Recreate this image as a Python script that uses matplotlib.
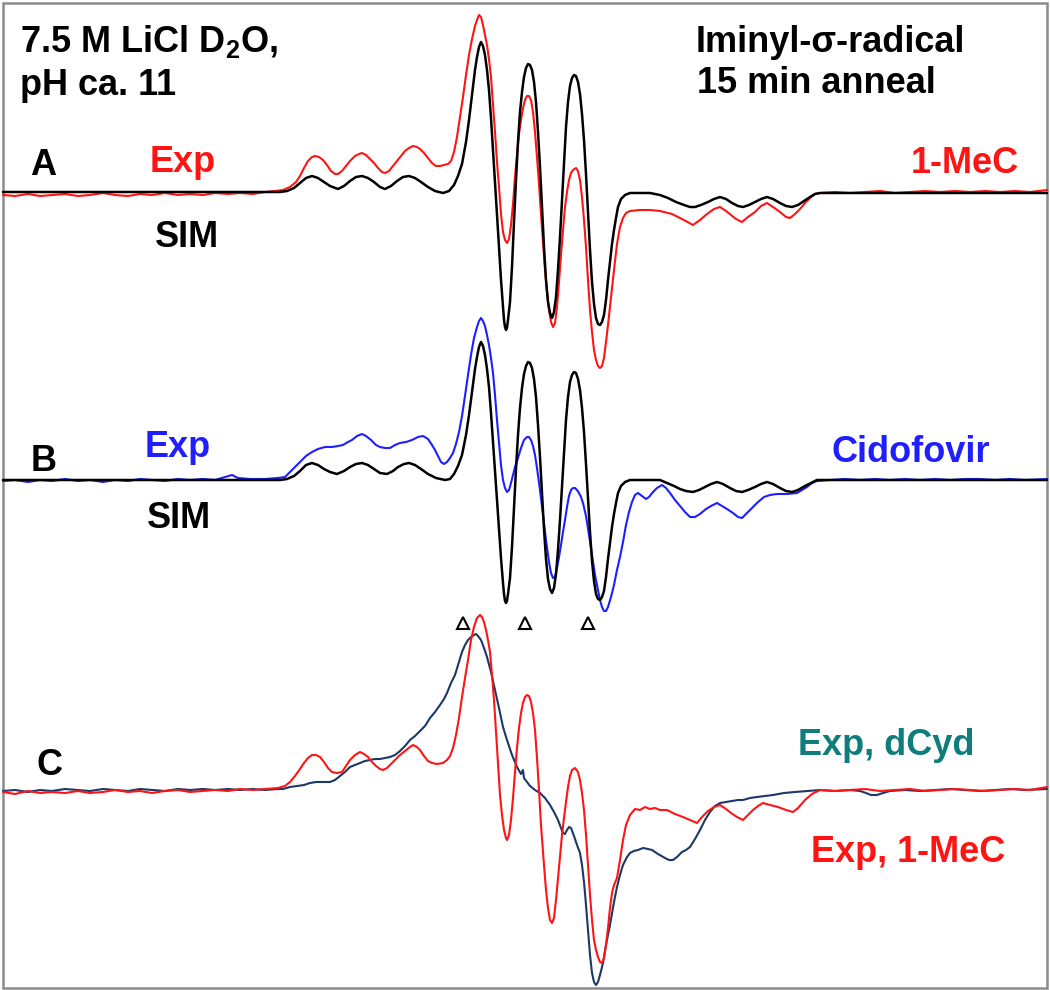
import matplotlib
matplotlib.use("Agg")
import matplotlib.pyplot as plt
import numpy as np

# (field, first-derivative signal) pairs, arbitrary units

# --- A: 1-MeC, simulation and experiment ---
a_sim = [(3, 0), (280, 0), (287, 1), (294, 4), (300, 9), (306, 14), (312, 16), (318, 14),
         (324, 10), (330, 6), (338, 3), (344, 6), (350, 11), (356, 15), (362, 16), (368, 14),
         (374, 10), (380, 5), (385, 3), (391, 6), (397, 11), (403, 15), (409, 16), (415, 14),
         (421, 10), (428, 5), (435, 1), (443, -1), (449, 1), (454, 7), (458, 16), (462, 28),
         (466, 50), (469, 72), (472, 97), (475, 122), (477, 135), (479, 145), (481, 150),
         (483, 146), (485, 137), (487, 122), (489, 102), (491, 74), (493, 42), (495, 10),
         (497, -23), (499, -55), (501, -88), (503, -115), (504, -128), (505, -135), (506, -138),
         (507, -136), (508, -128), (510, -110), (512, -75), (514, -30), (516, 12), (518, 50),
         (520, 80), (522, 100), (524, 115), (526, 124), (528, 128), (530, 127), (532, 122),
         (534, 110), (536, 90), (538, 60), (540, 25), (542, -15), (544, -55), (546, -88),
         (548, -110), (550, -121), (552, -126), (554, -120), (556, -105), (558, -78), (560, -45),
         (562, -8), (564, 30), (566, 65), (568, 90), (570, 106), (572, 114), (574, 117),
         (576, 116), (578, 110), (580, 98), (582, 78), (584, 52), (586, 18), (588, -20),
         (590, -58), (592, -90), (594, -112), (596, -126), (598, -132), (600, -133), (602, -130),
         (604, -123), (606, -108), (608, -88), (610, -70), (612, -52), (614, -38), (616, -26),
         (618, -15), (621, -7), (625, -3), (630, -1), (650, -1), (660, -3), (668, -6), (676, -10),
         (684, -13), (690, -15), (695, -15), (701, -13), (708, -10), (714, -7), (720, -5),
         (726, -7), (732, -11), (738, -14), (743, -15), (749, -13), (755, -10), (761, -7),
         (767, -5), (773, -7), (780, -11), (786, -14), (792, -15), (798, -13), (804, -9),
         (810, -5), (815, -2), (820, -1), (1047, -1)]

a_exp = [(3, -3), (15, -4), (28, -2), (40, -4), (52, -3), (65, -2), (78, -4), (90, -3),
         (103, -1), (115, -3), (128, -4), (140, -2), (152, -3), (165, -1), (178, -3), (190, -2),
         (203, -3), (215, -1), (228, -2), (240, -1), (253, -2), (265, 0), (275, 1), (283, 2),
         (290, 5), (296, 10), (300, 16), (304, 24), (308, 31), (312, 35), (315, 36), (319, 35),
         (323, 32), (327, 27), (331, 21), (335, 18), (338, 18), (342, 21), (346, 26), (350, 31),
         (355, 36), (359, 38), (362, 39), (366, 37), (370, 33), (374, 29), (378, 24), (382, 20),
         (385, 19), (389, 21), (393, 26), (397, 31), (401, 36), (405, 41), (409, 44), (413, 46),
         (417, 45), (420, 43), (424, 39), (428, 34), (432, 29), (436, 26), (440, 26), (444, 27),
         (448, 28), (451, 31), (454, 40), (457, 55), (460, 75), (463, 95), (466, 117), (469, 137),
         (472, 153), (475, 166), (477, 172), (479, 177), (481, 175), (483, 167), (485, 157),
         (487, 147), (489, 133), (491, 115), (493, 88), (495, 60), (497, 30), (499, 5),
         (501, -22), (503, -40), (505, -48), (507, -51), (509, -47), (511, -33), (513, -12),
         (515, 15), (517, 38), (519, 58), (521, 72), (523, 84), (525, 92), (527, 96), (529, 96),
         (531, 92), (533, 80), (535, 60), (537, 35), (539, 8), (541, -22), (543, -50), (545, -78),
         (547, -100), (549, -118), (551, -130), (553, -135), (555, -131), (557, -115), (559, -90),
         (561, -63), (563, -38), (565, -15), (567, 0), (569, 12), (571, 19), (573, 22), (576, 24),
         (578, 21), (580, 12), (582, -5), (584, -28), (586, -55), (588, -88), (590, -118),
         (592, -140), (594, -158), (596, -168), (598, -174), (600, -176), (602, -174), (604, -166),
         (606, -150), (608, -133), (611, -105), (614, -78), (617, -52), (620, -35), (623, -26),
         (626, -21), (630, -19), (640, -18), (650, -18), (660, -19), (672, -22), (682, -27),
         (693, -33), (700, -28), (707, -22), (714, -17), (720, -15), (726, -19), (731, -23),
         (736, -27), (742, -30), (748, -25), (755, -20), (761, -14), (767, -11), (773, -15),
         (780, -20), (786, -25), (790, -26), (795, -22), (800, -17), (805, -11), (810, -6),
         (815, -2), (820, -1), (835, 0), (850, -1), (865, 0), (880, 1), (895, -1), (910, 0),
         (925, 1), (940, 0), (955, 1), (970, 0), (985, 1), (1000, 0), (1015, 1), (1030, 0),
         (1047, 2)]

# --- B: Cidofovir, simulation and experiment ---
b_sim = [(3, 0), (280, 0), (287, 1), (294, 4), (300, 9), (306, 15), (312, 17), (318, 15),
         (324, 11), (330, 8), (337, 6), (344, 9), (350, 13), (356, 16), (362, 17), (368, 15),
         (374, 11), (380, 7), (387, 6), (393, 9), (398, 13), (404, 16), (409, 17), (415, 15),
         (421, 11), (428, 6), (436, 2), (445, 0), (450, 1), (454, 6), (458, 14), (462, 25),
         (466, 45), (469, 65), (472, 88), (475, 111), (477, 123), (479, 133), (481, 138),
         (483, 134), (485, 125), (487, 111), (489, 93), (491, 67), (493, 38), (495, 9),
         (497, -20), (499, -49), (501, -78), (503, -103), (504, -114), (505, -121), (506, -123),
         (507, -121), (508, -114), (510, -98), (512, -67), (514, -27), (516, 11), (518, 45),
         (520, 72), (522, 92), (524, 106), (526, 114), (528, 118), (530, 117), (532, 112),
         (534, 101), (536, 83), (538, 55), (540, 23), (542, -13), (544, -49), (546, -79),
         (548, -99), (550, -109), (552, -113), (554, -108), (556, -94), (558, -70), (560, -40),
         (562, -7), (564, 27), (566, 60), (568, 83), (570, 98), (572, 105), (574, 108),
         (576, 107), (578, 101), (580, 90), (582, 72), (584, 48), (586, 16), (588, -18),
         (590, -52), (592, -81), (594, -101), (596, -114), (598, -119), (600, -120), (602, -117),
         (604, -111), (606, -97), (608, -79), (610, -63), (612, -47), (614, -34), (616, -23),
         (618, -13), (621, -6), (625, -2), (630, 0), (660, 0), (667, -3), (674, -6), (680, -9),
         (686, -11), (693, -12), (699, -10), (705, -7), (711, -4), (717, -2), (723, -4),
         (730, -8), (736, -11), (742, -12), (748, -10), (755, -7), (761, -4), (767, -2),
         (773, -4), (780, -8), (786, -11), (792, -12), (798, -10), (805, -6), (811, -3),
         (817, 0), (1047, 0)]

b_exp = [(3, -1), (15, 0), (28, -2), (40, 0), (52, -1), (65, 1), (78, -1), (90, 0), (103, -2),
         (115, 0), (128, -1), (140, 1), (152, 0), (165, -1), (178, 1), (190, 0), (203, 1),
         (215, 0), (225, 3), (232, 5), (238, 2), (250, 1), (265, 1), (278, 2), (285, 3), (290, 8),
         (295, 13), (300, 18), (306, 24), (312, 28), (318, 31), (325, 33), (332, 33), (338, 34),
         (343, 35), (348, 38), (352, 40), (357, 44), (362, 46), (366, 44), (371, 40), (376, 35),
         (380, 33), (385, 32), (390, 32), (395, 35), (400, 37), (406, 38), (412, 40), (418, 43),
         (423, 44), (428, 41), (432, 35), (435, 30), (438, 24), (441, 18), (444, 16), (447, 18),
         (450, 22), (453, 27), (456, 36), (459, 48), (462, 64), (465, 84), (468, 105), (471, 125),
         (474, 142), (477, 153), (479, 159), (481, 162), (483, 159), (485, 154), (487, 145),
         (489, 135), (491, 122), (493, 107), (495, 85), (497, 60), (499, 38), (501, 15), (503, 0),
         (505, -8), (507, -12), (509, -10), (511, -3), (513, 5), (515, 13), (518, 22), (521, 32),
         (524, 40), (527, 43), (529, 43), (531, 40), (533, 34), (535, 25), (537, 12), (540, -10),
         (543, -35), (546, -60), (549, -82), (551, -93), (553, -98), (555, -97), (557, -88),
         (559, -77), (561, -65), (563, -52), (565, -40), (567, -27), (569, -16), (571, -10),
         (573, -8), (575, -8), (577, -10), (579, -13), (581, -17), (583, -23), (586, -36),
         (589, -55), (592, -75), (595, -95), (598, -110), (600, -120), (602, -127), (604, -131),
         (606, -131), (608, -127), (611, -117), (614, -105), (617, -90), (620, -77), (623, -62),
         (626, -45), (629, -32), (632, -22), (635, -15), (638, -13), (642, -16), (646, -19),
         (649, -17), (653, -12), (657, -8), (662, -5), (666, -8), (670, -13), (675, -20),
         (680, -26), (685, -32), (690, -37), (695, -37), (700, -34), (706, -29), (711, -26),
         (717, -23), (722, -26), (727, -29), (733, -33), (738, -37), (742, -38), (747, -33),
         (752, -28), (758, -22), (764, -17), (770, -15), (777, -14), (787, -14), (797, -13),
         (802, -10), (807, -7), (812, -3), (817, -1), (830, 0), (845, 1), (860, 0), (875, 1),
         (890, 0), (905, 1), (920, 0), (935, 1), (950, 0), (965, 1), (980, 1), (995, 0),
         (1010, 1), (1025, 0), (1047, 1)]

# --- C: dCyd vs 1-MeC experiments ---
c_mec = [(3, -2), (15, -4), (28, -1), (40, -3), (52, -2), (65, -3), (78, -1), (90, -3),
         (103, -2), (115, 0), (128, -2), (140, -1), (152, -3), (165, -1), (178, 0), (190, -2),
         (203, -1), (215, 0), (228, -1), (240, 1), (253, 0), (265, 1), (278, 2), (285, 4),
         (290, 8), (295, 14), (300, 21), (304, 27), (308, 32), (312, 35), (316, 35), (320, 33),
         (324, 28), (328, 22), (332, 18), (337, 17), (342, 18), (346, 24), (350, 30), (355, 35),
         (360, 38), (364, 36), (368, 33), (372, 28), (376, 24), (380, 21), (383, 20), (387, 22),
         (391, 26), (395, 30), (400, 35), (405, 39), (410, 43), (413, 45), (417, 43), (420, 40),
         (424, 34), (428, 29), (432, 27), (437, 26), (443, 27), (447, 30), (450, 34), (453, 42),
         (456, 55), (459, 72), (462, 93), (465, 112), (468, 130), (471, 150), (474, 163),
         (477, 172), (480, 175), (482, 173), (484, 168), (486, 160), (488, 150), (490, 138),
         (492, 115), (494, 90), (496, 58), (498, 25), (500, -5), (502, -25), (504, -40),
         (506, -48), (507, -50), (509, -45), (511, -30), (513, -8), (515, 18), (517, 42),
         (519, 62), (521, 77), (523, 87), (525, 93), (527, 95), (529, 94), (531, 88), (533, 77),
         (535, 60), (537, 32), (539, 0), (541, -35), (544, -75), (546, -100), (548, -118),
         (550, -130), (552, -133), (554, -128), (556, -110), (558, -88), (560, -65), (562, -45),
         (564, -28), (566, -12), (568, 3), (570, 14), (572, 20), (575, 22), (578, 18), (580, 10),
         (582, -3), (584, -20), (586, -45), (588, -75), (590, -105), (592, -130), (594, -150),
         (596, -160), (598, -167), (600, -172), (602, -173), (604, -168), (606, -155),
         (608, -138), (610, -118), (612, -103), (614, -95), (617, -88), (620, -70), (623, -50),
         (626, -35), (630, -25), (635, -19), (640, -20), (645, -17), (650, -19), (655, -18),
         (660, -20), (667, -20), (675, -24), (683, -27), (690, -30), (697, -33), (702, -27),
         (708, -21), (714, -17), (720, -15), (726, -19), (731, -23), (737, -27), (743, -30),
         (748, -25), (753, -20), (758, -16), (763, -13), (770, -15), (778, -17), (786, -20),
         (793, -22), (798, -18), (805, -10), (812, -4), (820, 0), (835, -1), (850, 0), (865, 1),
         (880, -1), (895, 0), (910, 1), (925, -1), (940, 0), (955, 1), (970, 0), (985, -1),
         (1000, 0), (1015, 1), (1030, 0), (1047, 3)]

c_dcyd = [(3, -1), (15, 0), (28, -2), (40, 0), (52, -1), (65, 1), (78, 0), (90, -1), (103, 1),
          (115, 0), (128, -1), (140, 1), (152, 0), (165, -1), (178, 1), (190, 0), (203, 1),
          (215, 0), (228, 1), (240, 0), (253, 1), (265, 0), (278, 1), (283, 1), (290, 3),
          (297, 4), (304, 5), (310, 7), (316, 8), (322, 8), (330, 8), (335, 10), (340, 14),
          (345, 18), (350, 23), (355, 25), (360, 27), (365, 29), (370, 30), (375, 31), (380, 31),
          (385, 32), (390, 33), (395, 35), (400, 39), (405, 44), (410, 50), (415, 54), (420, 59),
          (425, 64), (430, 72), (435, 78), (440, 85), (444, 91), (447, 97), (451, 107),
          (455, 115), (458, 125), (462, 138), (465, 145), (468, 150), (471, 153), (474, 155),
          (476, 156), (478, 154), (481, 150), (484, 142), (487, 133), (491, 118), (495, 100),
          (499, 82), (503, 63), (507, 50), (512, 35), (517, 23), (521, 16), (523, 20), (524, 12),
          (527, 8), (530, 4), (535, 0), (540, -3), (545, -8), (550, -15), (554, -22), (558, -30),
          (561, -38), (563, -43), (565, -44), (567, -40), (569, -37), (571, -38), (574, -46),
          (577, -55), (580, -63), (582, -75), (584, -92), (586, -115), (588, -140), (590, -165),
          (592, -183), (594, -192), (596, -195), (598, -192), (600, -185), (603, -173),
          (606, -155), (610, -135), (614, -112), (617, -97), (620, -85), (623, -75), (627, -67),
          (630, -63), (634, -61), (638, -60), (643, -58), (648, -59), (652, -60), (658, -64),
          (665, -68), (669, -70), (673, -70), (677, -67), (682, -62), (686, -60), (690, -57),
          (695, -49), (700, -40), (705, -30), (710, -22), (715, -16), (720, -13), (726, -12),
          (732, -11), (738, -10), (743, -10), (750, -8), (757, -7), (765, -6), (773, -5),
          (784, -3), (795, -2), (808, -1), (820, 0), (835, -1), (850, 0), (860, -1), (866, -3),
          (871, -5), (877, -5), (883, -3), (890, -1), (905, 0), (920, -1), (935, 0), (950, 1),
          (965, 0), (980, -1), (995, 0), (1010, 1), (1025, 0), (1047, 1)]

# line positions marked with open triangles
marker_field = [463, 525, 588]

red = "#ff1414"
blue = "#1e1eff"
navy = "#1b3868"
teal = "#0f7d7b"

plt.rcParams["font.family"] = ["Liberation Sans", "DejaVu Sans"]
plt.rcParams["font.weight"] = "bold"
plt.rcParams["mathtext.fontset"] = "custom"
plt.rcParams["mathtext.bf"] = "Liberation Sans:bold"
plt.rcParams["mathtext.rm"] = "Liberation Sans:bold"

fig = plt.figure(figsize=(10.5, 9.9), dpi=100)
ax = fig.add_axes([0, 0, 1, 1])
ax.set_xlim(0, 1050)
ax.set_ylim(-990, 0)
ax.axis("off")

# vertical offsets of each panel's baseline
off_a, off_b, off_c = -192, -480, -790


def trace(pairs, offset, color, lw):
    arr = np.array(pairs, dtype=float)
    ax.plot(arr[:, 0], offset + arr[:, 1], color=color, lw=lw,
            solid_joinstyle="round", solid_capstyle="round")


trace(a_exp, off_a, red, 1.5)
trace(a_sim, off_a, "black", 1.8)
trace(b_exp, off_b, blue, 1.5)
trace(b_sim, off_b, "black", 1.8)
trace(c_dcyd, off_c, navy, 1.5)
trace(c_mec, off_c, red, 1.5)

ax.plot(marker_field, [-623] * len(marker_field), linestyle="none", marker="^",
        markersize=9, markerfacecolor="white", markeredgecolor="black", markeredgewidth=1.5)

# frame around the figure
ax.add_patch(plt.Rectangle((3, -988), 1044, 985, fill=False, edgecolor="#8c8c8c", lw=1.8))

fs = 26
kw = dict(fontsize=fs, va="baseline")
ax.text(20, -52, "7.5 M LiCl D$_{\\mathrm{2}}$O,", ha="left", **kw)
ax.text(20, -95, "pH ca. 11", ha="left", **kw)
ax.text(696, -52, "Iminyl-σ-radical", ha="left", **kw)
ax.text(697, -93, "15 min anneal", ha="left", **kw)

ax.text(30, -175, "A", ha="left", **kw)
ax.text(150, -172, "Exp", ha="left", color=red, **kw)
ax.text(1019, -173, "1-MeC", ha="right", color=red, **kw)
ax.text(155, -247, "SIM", ha="left", **kw)

ax.text(31, -471, "B", ha="left", **kw)
ax.text(145, -457, "Exp", ha="left", color=blue, **kw)
ax.text(990, -462, "Cidofovir", ha="right", color=blue, **kw)
ax.text(147, -528, "SIM", ha="left", **kw)

ax.text(37, -775, "C", ha="left", **kw)
ax.text(975, -755, "Exp, dCyd", ha="right", color=teal, **kw)
ax.text(1005, -862, "Exp, 1-MeC", ha="right", color=red, **kw)

fig.savefig("out.png", dpi=100)
